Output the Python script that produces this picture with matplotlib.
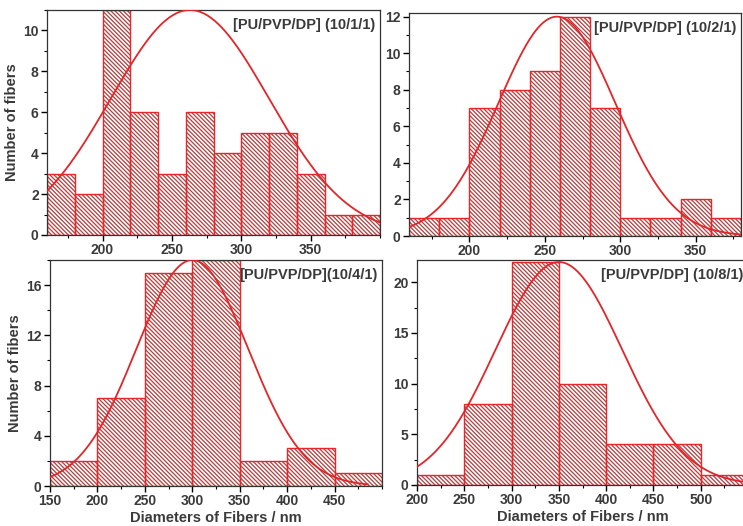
import numpy as np
import matplotlib
matplotlib.use("Agg")
import matplotlib.pyplot as plt
from matplotlib.ticker import MultipleLocator

plt.rcParams['font.family'] = ['Liberation Sans', 'DejaVu Sans']
plt.rcParams['font.weight'] = 'bold'
plt.rcParams['hatch.linewidth'] = 0.9

# fiber diameter histograms (bin left edges, counts) and gaussian fits
labels = ["[PU/PVP/DP] (10/1/1)", "[PU/PVP/DP] (10/2/1)",
          "[PU/PVP/DP](10/4/1)", "[PU/PVP/DP] (10/8/1)"]

edges_1 = [160, 180, 200, 220, 240, 260, 280, 300, 320, 340, 360, 380]
counts_1 = [3, 2, 11, 6, 3, 6, 4, 5, 5, 3, 1, 1]
edges_2 = [160, 180, 200, 220, 240, 260, 280, 300, 320, 340, 360]
counts_2 = [1, 1, 7, 8, 9, 12, 7, 1, 1, 2, 1]
edges_3 = [150, 200, 250, 300, 350, 400, 450]
counts_3 = [2, 7, 17, 18, 2, 3, 1]
edges_4 = [200, 250, 300, 350, 400, 450, 500]
counts_4 = [1, 8, 22, 10, 4, 4, 1]

bin_widths = [20, 20, 50, 50]
fit_peak = [11, 12, 18, 22]
fit_center = [263, 258, 300, 350]
fit_sigma = [57, 38.7, 59, 67]
fit_range = [(160, 400), (160, 380), (150, 485), (200, 550)]

xlims = [(160, 400), (160, 380), (150, 500), (200, 550)]
ylims = [(0, 11), (0, 12.2), (0, 18), (0, 22.2)]
xticks = [[200, 250, 300, 350], [200, 250, 300, 350],
          [150, 200, 250, 300, 350, 400, 450],
          [200, 250, 300, 350, 400, 450, 500]]
ymajor = [2, 2, 4, 5]

edges = [edges_1, edges_2, edges_3, edges_4]
counts = [counts_1, counts_2, counts_3, counts_4]

W, H = 743, 526
boxes = [(47, 380, 10, 235), (409, 741, 13, 236),
         (50, 382, 260, 486), (417, 748, 260, 485)]

fig = plt.figure(figsize=(7.43, 5.26), dpi=100)
txt = '#3a3a3a'

for i in range(4):
    l, r, t, b = boxes[i]
    ax = fig.add_axes([l / W, (H - b) / H, (r - l) / W, (b - t) / H])
    # hatched fill, then the red outline on top
    ax.bar(edges[i], counts[i], width=bin_widths[i], align='edge',
           color='white', edgecolor='#b83c3c', hatch='\\' * 8,
           linewidth=0, zorder=1)
    ax.bar(edges[i], counts[i], width=bin_widths[i], align='edge',
           fill=False, edgecolor='#e8262a', linewidth=1.0, zorder=2)
    x = np.linspace(fit_range[i][0], fit_range[i][1], 300)
    y = fit_peak[i] * np.exp(-(x - fit_center[i]) ** 2 / (2 * fit_sigma[i] ** 2))
    ax.plot(x, y, color='#e0262a', lw=1.3, zorder=3)

    ax.set_xlim(*xlims[i])
    ax.set_ylim(*ylims[i])
    ax.set_xticks(xticks[i])
    ax.xaxis.set_minor_locator(MultipleLocator(25))
    ax.yaxis.set_major_locator(MultipleLocator(ymajor[i]))
    ax.yaxis.set_minor_locator(MultipleLocator(ymajor[i] / 2))
    ax.tick_params(which='major', length=4, width=1, labelsize=10,
                   labelcolor=txt, pad=2)
    ax.tick_params(which='minor', length=2, width=0.8)
    for s in ax.spines.values():
        s.set_linewidth(0.9)
        s.set_color('#333333')
    ax.text(0.985, 0.965, labels[i], transform=ax.transAxes, ha='right',
            va='top', fontsize=10.5, color=txt, fontweight='bold')
    if i in (0, 2):
        ax.set_ylabel('Number of fibers', fontsize=10.5, color=txt,
                      fontweight='bold', labelpad=3)
    if i in (2, 3):
        ax.set_xlabel('Diameters of Fibers / nm', fontsize=10.5, color=txt,
                      fontweight='bold', labelpad=2)

fig.savefig('out.png', dpi=100)
